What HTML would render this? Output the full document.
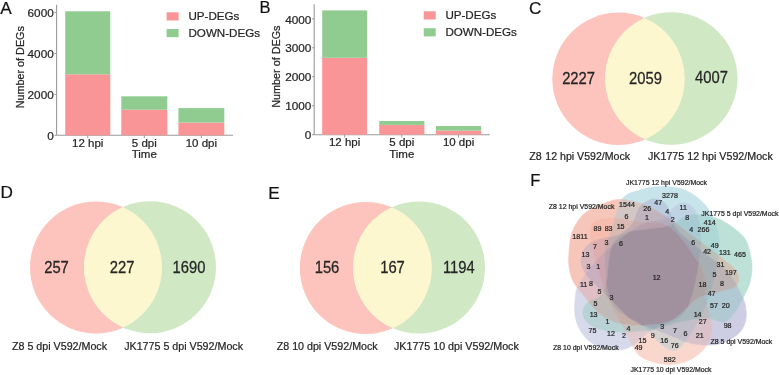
<!DOCTYPE html>
<html><head><meta charset="utf-8"><style>
html,body{margin:0;padding:0;background:#fff;width:779px;height:375px;overflow:hidden}
svg{display:block;will-change:transform}
text{font-family:"Liberation Sans", sans-serif;stroke:#222;stroke-width:0.22px}
</style></head><body>
<svg width="779" height="375" viewBox="0 0 779 375" font-family='"Liberation Sans", sans-serif'><text x="0.2" y="13.9" font-size="17.2" text-anchor="start" fill="#111" >A</text>
<line x1="56.6" y1="4.8" x2="56.6" y2="135.3" stroke="#9a9a9a" stroke-width="1.1"/>
<line x1="56.6" y1="135.3" x2="233" y2="135.3" stroke="#9a9a9a" stroke-width="1.1"/>
<line x1="54.4" y1="135.3" x2="56.6" y2="135.3" stroke="#9a9a9a" stroke-width="1"/>
<text x="53.800000000000004" y="140.0" font-size="11.8" text-anchor="end" fill="#262626" >0</text>
<line x1="54.4" y1="94.4" x2="56.6" y2="94.4" stroke="#9a9a9a" stroke-width="1"/>
<text x="53.800000000000004" y="99.10000000000001" font-size="11.8" text-anchor="end" fill="#262626" >2000</text>
<line x1="54.4" y1="53.500000000000014" x2="56.6" y2="53.500000000000014" stroke="#9a9a9a" stroke-width="1"/>
<text x="53.800000000000004" y="58.20000000000002" font-size="11.8" text-anchor="end" fill="#262626" >4000</text>
<line x1="54.4" y1="12.600000000000023" x2="56.6" y2="12.600000000000023" stroke="#9a9a9a" stroke-width="1"/>
<text x="53.800000000000004" y="17.300000000000022" font-size="11.8" text-anchor="end" fill="#262626" >6000</text>
<rect x="65.2" y="74.3" width="45.099999999999994" height="61.000000000000014" fill="#FA9597"/>
<rect x="65.2" y="11.3" width="45.099999999999994" height="63.0" fill="#90CC90"/>
<line x1="87.75" y1="135.3" x2="87.75" y2="138.10000000000002" stroke="#9a9a9a" stroke-width="1"/>
<text x="87.75" y="146.60000000000002" font-size="11.5" text-anchor="middle" fill="#262626" >12 hpi</text>
<rect x="121.3" y="109.7" width="46.000000000000014" height="25.60000000000001" fill="#FA9597"/>
<rect x="121.3" y="96.3" width="46.000000000000014" height="13.400000000000006" fill="#90CC90"/>
<line x1="144.3" y1="135.3" x2="144.3" y2="138.10000000000002" stroke="#9a9a9a" stroke-width="1"/>
<text x="144.3" y="146.60000000000002" font-size="11.5" text-anchor="middle" fill="#262626" >5 dpi</text>
<rect x="178.4" y="122.6" width="45.900000000000006" height="12.700000000000017" fill="#FA9597"/>
<rect x="178.4" y="108.1" width="45.900000000000006" height="14.5" fill="#90CC90"/>
<line x1="201.35000000000002" y1="135.3" x2="201.35000000000002" y2="138.10000000000002" stroke="#9a9a9a" stroke-width="1"/>
<text x="201.35000000000002" y="146.60000000000002" font-size="11.5" text-anchor="middle" fill="#262626" >10 dpi</text>
<text x="144.3" y="158.3" font-size="11.5" text-anchor="middle" fill="#262626" >Time</text>
<rect x="166.6" y="12.3" width="12" height="8.2" fill="#FA9597"/>
<rect x="166.6" y="29.0" width="12" height="8.2" fill="#90CC90"/>
<text x="188.5" y="20.4" font-size="11.6" text-anchor="start" fill="#262626" >UP-DEGs</text>
<text x="188.5" y="37.1" font-size="11.6" text-anchor="start" fill="#262626" >DOWN-DEGs</text>
<text transform="translate(23.9,67.2) rotate(-90)" font-size="10.8" text-anchor="middle" fill="#262626">Number of DEGs</text>
<text x="259.6" y="13.3" font-size="16.5" text-anchor="start" fill="#111" >B</text>
<line x1="314.2" y1="4.3" x2="314.2" y2="134.7" stroke="#9a9a9a" stroke-width="1.1"/>
<line x1="314.2" y1="134.7" x2="490" y2="134.7" stroke="#9a9a9a" stroke-width="1.1"/>
<line x1="312.0" y1="134.7" x2="314.2" y2="134.7" stroke="#9a9a9a" stroke-width="1"/>
<text x="311.4" y="139.39999999999998" font-size="11.8" text-anchor="end" fill="#262626" >0</text>
<line x1="312.0" y1="105.72999999999999" x2="314.2" y2="105.72999999999999" stroke="#9a9a9a" stroke-width="1"/>
<text x="311.4" y="110.42999999999999" font-size="11.8" text-anchor="end" fill="#262626" >1000</text>
<line x1="312.0" y1="76.75999999999999" x2="314.2" y2="76.75999999999999" stroke="#9a9a9a" stroke-width="1"/>
<text x="311.4" y="81.46" font-size="11.8" text-anchor="end" fill="#262626" >2000</text>
<line x1="312.0" y1="47.78999999999999" x2="314.2" y2="47.78999999999999" stroke="#9a9a9a" stroke-width="1"/>
<text x="311.4" y="52.489999999999995" font-size="11.8" text-anchor="end" fill="#262626" >3000</text>
<line x1="312.0" y1="18.819999999999993" x2="314.2" y2="18.819999999999993" stroke="#9a9a9a" stroke-width="1"/>
<text x="311.4" y="23.519999999999992" font-size="11.8" text-anchor="end" fill="#262626" >4000</text>
<rect x="322.2" y="57.8" width="44.900000000000034" height="76.89999999999999" fill="#FA9597"/>
<rect x="322.2" y="10.4" width="44.900000000000034" height="47.4" fill="#90CC90"/>
<line x1="344.65" y1="134.7" x2="344.65" y2="137.5" stroke="#9a9a9a" stroke-width="1"/>
<text x="344.65" y="146.0" font-size="11.5" text-anchor="middle" fill="#262626" >12 hpi</text>
<rect x="379.2" y="124.9" width="45.19999999999999" height="9.799999999999983" fill="#FA9597"/>
<rect x="379.2" y="121" width="45.19999999999999" height="3.9000000000000057" fill="#90CC90"/>
<line x1="401.79999999999995" y1="134.7" x2="401.79999999999995" y2="137.5" stroke="#9a9a9a" stroke-width="1"/>
<text x="401.79999999999995" y="146.0" font-size="11.5" text-anchor="middle" fill="#262626" >5 dpi</text>
<rect x="436" y="130.6" width="45.10000000000002" height="4.099999999999994" fill="#FA9597"/>
<rect x="436" y="126" width="45.10000000000002" height="4.599999999999994" fill="#90CC90"/>
<line x1="458.55" y1="134.7" x2="458.55" y2="137.5" stroke="#9a9a9a" stroke-width="1"/>
<text x="458.55" y="146.0" font-size="11.5" text-anchor="middle" fill="#262626" >10 dpi</text>
<text x="401.79999999999995" y="157.7" font-size="11.5" text-anchor="middle" fill="#262626" >Time</text>
<rect x="423.7" y="11.3" width="12" height="8.2" fill="#FA9597"/>
<rect x="423.7" y="28.2" width="12" height="8.2" fill="#90CC90"/>
<text x="445.4" y="19.4" font-size="11.6" text-anchor="start" fill="#262626" >UP-DEGs</text>
<text x="445.4" y="36.3" font-size="11.6" text-anchor="start" fill="#262626" >DOWN-DEGs</text>
<text transform="translate(280.2,66.6) rotate(-90)" font-size="10.8" text-anchor="middle" fill="#262626">Number of DEGs</text>
<text x="529.0" y="14.2" font-size="17.2" text-anchor="start" fill="#111" >C</text>
<circle cx="618.5" cy="78.8" r="66.2" fill="#FCC4BC"/>
<circle cx="671.3" cy="78.5" r="66.2" fill="#D0E8C4"/>
<clipPath id="vc1"><circle cx="618.5" cy="78.8" r="66.2"/></clipPath>
<circle cx="671.3" cy="78.5" r="66.2" fill="#FDF7D0" clip-path="url(#vc1)"/>
<text transform="translate(578.6 83.5) scale(1 1.14)" font-size="14.8" text-anchor="middle" fill="#262626">2227</text>
<text transform="translate(645.4 83.5) scale(1 1.14)" font-size="14.8" text-anchor="middle" fill="#262626">2059</text>
<text transform="translate(711.5 83.2) scale(1 1.14)" font-size="14.8" text-anchor="middle" fill="#262626">4007</text>
<text x="529.2" y="160.2" font-size="10.7" text-anchor="start" fill="#262626" >Z8</text>
<text x="648" y="160.2" font-size="10.7" text-anchor="start" fill="#262626" >JK1775 12 hpi V592/Mock</text>
<text x="545.3" y="160.2" font-size="10.6" text-anchor="start" fill="#262626" >12 hpi V592/Mock</text>
<text x="0.5" y="197.8" font-size="17.2" text-anchor="start" fill="#111" >D</text>
<circle cx="96" cy="267.4" r="66" fill="#FCC4BC"/>
<circle cx="150" cy="267.2" r="66" fill="#D0E8C4"/>
<clipPath id="vc2"><circle cx="96" cy="267.4" r="66"/></clipPath>
<circle cx="150" cy="267.2" r="66" fill="#FDF7D0" clip-path="url(#vc2)"/>
<text transform="translate(56.5 273.1) scale(1 1.14)" font-size="14.8" text-anchor="middle" fill="#262626">257</text>
<text transform="translate(122.2 273.1) scale(1 1.14)" font-size="14.8" text-anchor="middle" fill="#262626">227</text>
<text transform="translate(188.9 273.1) scale(1 1.14)" font-size="14.8" text-anchor="middle" fill="#262626">1690</text>
<text x="12" y="350.3" font-size="10.7" text-anchor="start" fill="#262626" >Z8 5 dpi V592/Mock</text>
<text x="124.2" y="350.3" font-size="10.7" text-anchor="start" fill="#262626" >JK1775 5 dpi V592/Mock</text>
<text x="268.2" y="198.8" font-size="17.2" text-anchor="start" fill="#111" >E</text>
<circle cx="365.8" cy="268" r="66" fill="#FCC4BC"/>
<circle cx="419" cy="267.5" r="66" fill="#D0E8C4"/>
<clipPath id="vc3"><circle cx="365.8" cy="268" r="66"/></clipPath>
<circle cx="419" cy="267.5" r="66" fill="#FDF7D0" clip-path="url(#vc3)"/>
<text transform="translate(327 273.1) scale(1 1.14)" font-size="14.8" text-anchor="middle" fill="#262626">156</text>
<text transform="translate(392.5 273.1) scale(1 1.14)" font-size="14.8" text-anchor="middle" fill="#262626">167</text>
<text transform="translate(458.8 273.1) scale(1 1.14)" font-size="14.8" text-anchor="middle" fill="#262626">1194</text>
<text x="276.7" y="350.3" font-size="10.7" text-anchor="start" fill="#262626" >Z8 10 dpi V592/Mock</text>
<text x="394" y="350.3" font-size="10.7" text-anchor="start" fill="#262626" >JK1775 10 dpi V592/Mock</text>
<text x="530.2" y="186.2" font-size="16.5" text-anchor="start" fill="#111" >F</text>
<path d="M714.2,220.2 714.6,221.2 715.0,222.1 715.3,223.1 715.7,224.1 716.0,225.0 716.3,225.9 716.6,226.8 716.9,227.6 717.2,228.4 717.4,229.2 717.7,230.0 717.9,230.8 718.1,231.6 718.3,232.4 718.5,233.3 718.6,234.2 718.8,235.2 718.9,236.3 718.9,237.4 719.0,238.7 719.0,240.0 719.0,241.5 719.0,243.0 718.9,244.6 718.8,246.3 718.7,248.1 718.6,249.9 718.5,251.8 718.3,253.8 718.2,255.0 719.5,256.0 720.8,257.0 722.0,258.0 723.2,259.0 724.4,259.9 725.6,260.9 726.7,261.8 727.9,262.7 728.9,263.6 730.0,264.5 731.0,265.3 732.0,266.2 732.9,267.0 733.7,267.8 734.5,268.7 735.2,269.5 735.9,270.3 736.5,271.2 737.0,272.0 737.4,272.9 737.8,273.7 738.1,274.6 738.4,275.5 738.6,276.4 738.8,277.3 738.8,278.1 738.9,279.0 738.8,279.9 738.8,280.7 738.6,281.5 738.4,282.3 738.1,283.0 737.8,283.7 737.4,284.4 737.0,285.0 736.7,285.4 736.9,285.8 737.7,287.4 738.6,289.0 739.3,290.5 740.1,292.0 740.8,293.4 741.4,294.8 742.0,296.0 742.5,297.2 743.0,298.1 743.0,298.0 743.5,297.1 743.9,296.3 744.4,295.4 744.8,294.5 745.3,293.7 745.7,292.8 746.2,292.0 746.6,291.1 747.0,290.3 747.4,289.4 747.8,288.5 748.2,287.6 748.6,286.7 748.9,285.8 749.2,284.9 749.5,284.0 749.8,283.0 750.0,282.1 750.3,281.1 750.5,280.1 750.7,279.0 750.9,278.0 751.1,277.0 751.2,275.9 751.4,274.9 751.5,273.9 751.6,272.8 751.8,271.8 751.8,270.8 751.9,269.9 752.0,268.9 752.0,268.0 752.0,267.1 752.0,266.2 752.0,265.4 752.0,264.6 751.9,263.8 751.9,263.0 751.8,262.2 751.7,261.4 751.6,260.6 751.5,259.9 751.3,259.1 751.2,258.3 751.0,257.5 750.9,256.7 750.7,255.8 750.5,255.0 750.3,254.1 750.1,253.2 749.9,252.3 749.7,251.4 749.4,250.4 749.2,249.4 748.9,248.5 748.7,247.5 748.4,246.5 748.1,245.6 747.8,244.7 747.4,243.8 747.1,242.9 746.8,242.1 746.4,241.3 746.0,240.5 745.6,239.8 745.2,239.1 744.8,238.5 744.3,237.8 743.9,237.2 743.4,236.7 742.9,236.1 742.4,235.6 741.9,235.1 741.4,234.6 740.8,234.1 740.3,233.6 739.7,233.0 739.2,232.5 738.6,232.0 738.0,231.5 737.4,231.0 736.8,230.4 736.1,229.9 735.5,229.4 734.8,228.8 734.1,228.3 733.4,227.8 732.8,227.3 732.0,226.8 731.3,226.3 730.6,225.8 729.9,225.3 729.2,224.8 728.4,224.4 727.7,223.9 727.0,223.5 726.3,223.1 725.6,222.7 725.0,222.3 724.4,221.9 723.8,221.5 723.1,221.1 722.5,220.8 721.9,220.4 721.2,220.1 720.5,219.8 719.7,219.5 718.9,219.1 718.1,218.8 717.1,218.6 716.1,218.3 715.0,218.0 713.8,217.7 713.1,217.6 713.4,218.3 713.8,219.2Z" fill="rgb(190, 225, 215)" stroke="rgb(190, 225, 215)" stroke-width="0.6" stroke-linejoin="round"/>
<path d="M670.2,212.2 670.6,211.5 670.9,210.9 671.2,210.2 671.6,209.6 672.0,209.1 672.4,208.5 673.0,208.0 673.6,207.5 674.2,207.0 674.9,206.5 675.5,206.0 676.2,205.5 676.9,205.0 677.6,204.6 678.3,204.2 679.0,203.8 679.7,203.4 680.5,203.1 681.2,202.9 681.9,202.7 682.6,202.5 683.3,202.5 684.0,202.5 684.7,202.6 685.4,202.7 686.1,203.0 686.9,203.2 687.6,203.5 688.4,203.9 689.1,204.3 689.9,204.8 690.6,205.3 691.3,205.8 692.0,206.4 692.7,207.1 693.3,207.8 693.9,208.5 694.5,209.2 695.0,210.0 695.5,210.8 695.9,211.7 696.4,212.5 696.8,213.5 697.2,214.4 697.3,214.8 698.1,214.8 699.8,215.0 701.5,215.2 703.2,215.5 704.9,215.8 706.5,216.1 708.1,216.4 709.6,216.7 711.1,217.1 712.5,217.4 713.1,217.6 713.0,217.3 712.6,216.4 712.1,215.4 711.6,214.5 711.1,213.5 710.6,212.6 710.1,211.7 709.6,210.9 709.0,210.0 708.4,209.2 707.9,208.3 707.3,207.5 706.6,206.7 706.0,205.9 705.4,205.1 704.7,204.4 704.1,203.6 703.4,202.9 702.7,202.1 701.9,201.4 701.2,200.7 700.4,200.0 699.6,199.3 698.8,198.7 698.0,198.0 697.1,197.3 696.3,196.7 695.4,196.0 694.5,195.4 693.6,194.7 692.6,194.1 691.7,193.5 690.7,192.9 689.7,192.3 688.7,191.8 687.6,191.2 686.5,190.7 685.4,190.2 684.3,189.8 683.2,189.4 682.0,189.0 680.8,188.7 679.5,188.3 678.2,188.0 676.9,187.8 675.5,187.5 674.1,187.3 672.7,187.1 671.2,187.0 669.8,186.8 668.4,186.7 666.9,186.6 665.5,186.6 664.1,186.5 662.7,186.5 661.3,186.5 660.0,186.5 658.7,186.5 657.4,186.6 656.1,186.7 654.8,186.8 653.5,187.0 652.3,187.1 651.0,187.3 649.8,187.5 648.5,187.8 647.3,188.0 646.0,188.3 644.8,188.6 643.6,188.9 642.4,189.3 641.2,189.6 640.0,190.0 638.8,190.4 637.6,190.7 636.4,191.1 635.1,191.5 633.9,191.8 632.7,192.2 631.5,192.6 630.3,193.1 629.1,193.6 628.0,194.1 626.9,194.7 625.8,195.4 624.8,196.2 623.8,197.0 622.9,198.0 622.0,199.0 621.6,199.5 622.9,199.6 624.4,199.7 625.9,199.9 627.5,200.2 629.1,200.4 630.7,200.7 632.3,201.1 633.9,201.5 635.6,201.9 637.2,202.4 638.8,202.8 640.4,203.3 641.9,203.9 642.5,204.1 642.8,203.8 643.4,203.3 644.0,202.9 644.5,202.5 645.1,202.1 645.7,201.8 646.3,201.4 646.9,201.1 647.4,200.8 648.0,200.5 648.6,200.2 649.1,200.0 649.7,199.8 650.3,199.6 650.8,199.4 651.4,199.3 652.0,199.1 652.6,199.0 653.1,199.0 653.7,198.9 654.3,198.9 654.8,198.8 655.4,198.9 655.9,198.9 656.5,198.9 657.0,199.0 657.5,199.1 658.1,199.2 658.6,199.3 659.1,199.5 659.7,199.7 660.2,199.9 660.7,200.1 661.2,200.3 661.8,200.6 662.3,200.9 662.8,201.2 663.2,201.5 663.7,201.9 664.2,202.2 664.6,202.6 665.0,203.0 665.4,203.4 665.8,203.8 666.1,204.3 666.4,204.7 666.8,205.2 667.1,205.7 667.3,206.2 667.6,206.8 667.9,207.3 668.2,207.9 668.5,208.5 668.8,209.1 669.0,209.8 669.3,210.5 669.7,211.2 670.0,212.0 670.2,212.4Z" fill="rgb(200, 228, 235)" stroke="rgb(200, 228, 235)" stroke-width="0.6" stroke-linejoin="round"/>
<path d="M706.5,216.1 704.9,215.8 703.2,215.5 701.5,215.2 699.8,215.0 698.1,214.8 697.3,214.8 697.6,215.4 697.9,216.5 698.2,217.6 698.5,218.7 698.8,219.9 699.0,221.1 699.3,222.4 699.5,223.7 699.7,225.1 699.8,226.5 700.0,228.0 700.1,229.5 700.3,231.1 700.4,232.6 700.6,234.2 700.7,235.9 700.8,237.5 700.9,239.3 701.0,241.1 701.0,242.2 701.3,242.5 703.0,243.7 704.6,244.9 706.2,246.1 707.8,247.2 709.4,248.4 710.9,249.5 712.4,250.6 713.9,251.7 715.4,252.8 716.8,253.9 718.1,254.9 718.2,255.0 718.3,253.8 718.5,251.8 718.6,249.9 718.7,248.1 718.8,246.3 718.9,244.6 719.0,243.0 719.0,241.5 719.0,240.0 719.0,238.7 718.9,237.4 718.9,236.3 718.8,235.2 718.6,234.2 718.5,233.3 718.3,232.4 718.1,231.6 717.9,230.8 717.7,230.0 717.4,229.2 717.2,228.4 716.9,227.6 716.6,226.8 716.3,225.9 716.0,225.0 715.7,224.1 715.3,223.1 715.0,222.1 714.6,221.2 714.2,220.2 713.8,219.2 713.4,218.3 713.1,217.6 712.5,217.4 711.1,217.1 709.6,216.7 708.1,216.4Z" fill="rgb(174, 216, 214)" stroke="rgb(174, 216, 214)" stroke-width="0.6" stroke-linejoin="round"/>
<path d="M634.5,349.3 634.9,350.0 635.4,350.7 635.8,351.4 636.3,352.0 636.7,352.6 637.2,353.2 637.7,353.8 638.2,354.4 638.8,354.9 639.4,355.5 640.0,356.0 640.7,356.5 641.4,357.0 642.1,357.5 642.8,357.9 643.6,358.4 644.4,358.8 645.2,359.2 646.0,359.5 646.8,359.9 647.7,360.2 648.5,360.6 649.4,360.9 650.3,361.2 651.2,361.5 652.1,361.7 653.0,362.0 653.9,362.3 654.8,362.5 655.8,362.8 656.8,363.0 657.7,363.2 658.7,363.4 659.7,363.6 660.8,363.8 661.8,364.0 662.8,364.1 663.8,364.2 664.9,364.3 665.9,364.4 666.9,364.5 668.0,364.5 669.0,364.5 670.0,364.5 671.1,364.4 672.2,364.4 673.2,364.3 674.3,364.2 675.4,364.0 676.5,363.9 677.6,363.7 678.7,363.5 679.8,363.3 680.9,363.0 681.9,362.8 683.0,362.5 684.0,362.2 685.0,361.8 686.0,361.5 687.0,361.1 687.9,360.7 688.9,360.3 689.8,359.8 690.8,359.4 691.7,358.9 692.6,358.4 693.5,357.8 694.4,357.3 695.2,356.7 696.1,356.1 696.9,355.5 697.7,354.9 698.5,354.3 699.3,353.6 700.0,353.0 700.7,352.4 701.4,351.7 702.1,351.0 702.7,350.3 703.4,349.6 704.0,348.9 704.6,348.2 705.2,347.4 705.7,346.6 706.3,345.9 706.8,345.1 706.8,345.1 706.4,345.1 705.2,345.0 703.9,345.0 702.7,345.0 701.4,344.9 700.0,344.8 698.7,344.6 697.3,344.5 695.9,344.2 694.5,344.0 693.0,343.7 691.5,343.4 690.0,343.0 688.4,342.6 686.8,342.1 685.4,341.6 684.6,342.6 683.7,343.7 682.9,344.7 682.0,345.6 681.2,346.5 680.3,347.3 679.5,348.0 678.6,348.6 677.7,349.2 676.9,349.6 676.0,350.0 675.1,350.3 674.3,350.4 673.5,350.5 672.6,350.5 671.8,350.4 671.0,350.2 670.2,350.0 669.4,349.7 668.5,349.3 667.7,348.9 666.8,348.3 665.9,347.8 665.0,347.2 664.0,346.5 663.0,345.8 662.0,345.0 660.9,344.2 659.9,343.2 658.8,342.2 657.6,341.1 656.5,339.9 655.4,338.6 654.2,337.3 653.0,336.0 651.7,334.6 650.5,333.2 649.3,331.9 648.8,332.2 647.4,333.3 646.0,334.5 644.6,335.6 643.4,336.7 642.1,337.8 640.9,338.9 639.8,340.0 638.6,341.0 637.5,342.0 636.4,342.9 635.3,343.8 634.2,344.6 633.1,345.3 632.4,345.7 632.5,345.9 633.1,346.8 633.6,347.7 634.0,348.5Z" fill="rgb(250, 215, 205)" stroke="rgb(250, 215, 205)" stroke-width="0.6" stroke-linejoin="round"/>
<path d="M653.0,336.0 654.2,337.3 655.4,338.6 656.5,339.9 657.6,341.1 658.8,342.2 659.9,343.2 660.9,344.2 662.0,345.0 663.0,345.8 664.0,346.5 665.0,347.2 665.9,347.8 666.8,348.3 667.7,348.9 668.5,349.3 669.4,349.7 670.2,350.0 671.0,350.2 671.8,350.4 672.6,350.5 673.5,350.5 674.3,350.4 675.1,350.3 676.0,350.0 676.9,349.6 677.7,349.2 678.6,348.6 679.5,348.0 680.3,347.3 681.2,346.5 682.0,345.6 682.9,344.7 683.7,343.7 684.6,342.6 685.4,341.6 685.2,341.5 683.5,340.9 681.8,340.3 680.1,339.6 678.3,338.9 676.5,338.1 674.7,337.4 672.9,336.6 671.1,335.8 669.2,335.0 667.4,334.2 665.6,333.5 663.8,332.7 662.0,332.0 660.2,331.3 658.4,330.7 656.6,330.0 654.7,329.4 654.2,329.2 654.0,329.3 652.9,329.5 652.0,330.0 650.4,331.1 649.3,331.9 650.5,333.2 651.7,334.6Z" fill="rgb(214, 210, 208)" stroke="rgb(214, 210, 208)" stroke-width="0.6" stroke-linejoin="round"/>
<path d="M576.3,290.6 576.1,291.5 575.9,292.3 575.8,293.2 575.6,294.0 575.5,294.9 575.4,295.7 575.3,296.5 575.2,297.4 575.2,298.2 575.1,299.1 575.0,300.0 574.9,300.9 574.8,301.8 574.8,302.8 574.7,303.7 574.6,304.7 574.6,305.6 574.6,306.6 574.6,307.6 574.6,308.5 574.6,309.5 574.6,310.4 574.6,311.4 574.7,312.3 574.8,313.2 574.9,314.1 575.0,315.0 575.1,315.9 575.3,316.7 575.4,317.6 575.6,318.4 575.8,319.2 576.0,320.1 576.2,320.9 576.4,321.7 576.7,322.5 577.0,323.3 577.2,324.1 577.6,324.9 577.9,325.7 578.2,326.4 578.6,327.2 579.0,328.0 579.4,328.8 579.9,329.6 580.3,330.4 580.8,331.2 581.3,332.0 581.9,332.8 582.4,333.6 583.0,334.4 583.6,335.1 584.2,335.9 584.8,336.7 585.4,337.4 586.1,338.1 586.7,338.7 587.3,339.4 588.0,340.0 588.7,340.6 589.3,341.1 590.0,341.7 590.7,342.2 591.4,342.7 592.1,343.2 592.8,343.6 593.6,344.1 594.3,344.5 595.1,344.9 595.9,345.3 596.6,345.6 597.5,346.0 598.3,346.4 599.1,346.7 600.0,347.0 600.9,347.3 601.8,347.6 602.8,347.9 603.7,348.2 604.7,348.5 605.7,348.7 606.7,349.0 607.8,349.2 608.8,349.4 609.8,349.6 610.9,349.7 611.9,349.8 612.9,349.9 614.0,350.0 615.0,350.0 616.0,350.0 617.0,350.0 618.0,349.9 618.9,349.9 619.9,349.8 620.9,349.7 621.8,349.5 622.8,349.4 623.8,349.2 624.7,349.0 625.7,348.7 626.7,348.4 627.7,348.0 628.8,347.6 629.8,347.1 630.9,346.6 632.0,346.0 632.4,345.7 632.0,345.0 631.4,344.0 630.9,343.0 630.3,341.9 629.8,340.9 629.2,339.7 628.6,338.6 628.0,337.4 627.4,336.2 626.8,334.9 626.2,333.6 625.6,332.3 625.5,332.2 625.2,332.2 623.0,332.2 620.9,332.2 618.8,332.2 616.9,332.1 615.0,332.0 613.2,331.9 611.5,331.7 609.7,331.4 608.1,331.2 606.5,330.9 604.9,330.6 603.4,330.2 601.9,329.8 600.4,329.4 599.1,329.0 597.8,328.5 596.5,328.0 595.3,327.5 594.1,327.0 593.0,326.5 592.0,326.0 591.0,325.5 590.1,324.9 589.3,324.3 588.5,323.6 587.7,323.0 587.0,322.3 586.4,321.6 585.8,320.9 585.3,320.2 584.8,319.4 584.4,318.7 584.0,317.9 583.7,317.2 583.4,316.5 583.2,315.7 583.0,315.0 582.9,314.3 582.8,313.6 582.7,312.8 582.8,312.1 582.8,311.4 582.9,310.6 583.1,309.9 583.3,309.1 583.6,308.4 583.9,307.6 584.3,306.9 584.7,306.1 585.2,305.3 585.8,304.5 586.3,303.8 587.0,303.0 587.7,302.3 588.5,301.7 588.1,301.1 587.2,300.1 586.4,299.0 585.6,298.0 584.8,297.0 584.0,296.0 583.2,295.0 582.4,294.1 581.7,293.1 580.9,292.2 580.1,291.2 579.3,290.3 578.6,289.4 577.9,288.4 577.3,287.7 577.2,287.9 576.8,288.9 576.5,289.8Z" fill="rgb(215, 218, 235)" stroke="rgb(215, 218, 235)" stroke-width="0.6" stroke-linejoin="round"/>
<path d="M587.0,303.0 586.3,303.8 585.8,304.5 585.2,305.3 584.7,306.1 584.3,306.9 583.9,307.6 583.6,308.4 583.3,309.1 583.1,309.9 582.9,310.6 582.8,311.4 582.8,312.1 582.7,312.8 582.8,313.6 582.9,314.3 583.0,315.0 583.2,315.7 583.4,316.5 583.7,317.2 584.0,317.9 584.4,318.7 584.8,319.4 585.3,320.2 585.8,320.9 586.4,321.6 587.0,322.3 587.7,323.0 588.5,323.6 589.3,324.3 590.1,324.9 591.0,325.5 592.0,326.0 593.0,326.5 594.1,327.0 595.3,327.5 596.5,328.0 597.8,328.5 599.1,329.0 600.4,329.4 601.9,329.8 603.4,330.2 604.9,330.6 606.5,330.9 608.1,331.2 609.7,331.4 611.5,331.7 613.2,331.9 615.0,332.0 616.9,332.1 618.8,332.2 620.9,332.2 623.0,332.2 625.2,332.2 625.5,332.2 624.9,330.9 624.2,329.5 623.5,328.0 622.8,326.5 622.0,325.0 621.3,323.6 620.5,323.4 619.1,323.1 617.7,322.8 616.3,322.4 615.0,322.0 613.7,321.6 612.5,321.1 611.3,320.6 610.1,320.1 609.0,319.6 607.9,319.0 606.8,318.4 605.8,317.8 604.8,317.2 603.8,316.5 602.8,315.8 601.9,315.1 600.9,314.3 599.9,313.6 599.0,312.8 598.0,312.0 597.0,311.2 596.1,310.3 595.1,309.4 594.2,308.4 593.3,307.4 592.4,306.4 591.5,305.4 590.6,304.3 589.8,303.3 588.9,302.2 588.5,301.7 587.7,302.3Z" fill="rgb(184, 210, 214)" stroke="rgb(184, 210, 214)" stroke-width="0.6" stroke-linejoin="round"/>
<path d="M695.9,211.7 695.5,210.8 695.0,210.0 694.5,209.2 693.9,208.5 693.3,207.8 692.7,207.1 692.0,206.4 691.3,205.8 690.6,205.3 689.9,204.8 689.1,204.3 688.4,203.9 687.6,203.5 686.9,203.2 686.1,203.0 685.4,202.7 684.7,202.6 684.0,202.5 683.3,202.5 682.6,202.5 681.9,202.7 681.2,202.9 680.5,203.1 679.7,203.4 679.0,203.8 678.3,204.2 677.6,204.6 676.9,205.0 676.2,205.5 675.5,206.0 674.9,206.5 674.2,207.0 673.6,207.5 673.0,208.0 672.4,208.5 672.0,209.1 671.6,209.6 671.2,210.2 670.9,210.9 670.6,211.5 670.2,212.2 670.2,212.4 670.3,212.8 670.6,213.7 670.9,214.6 671.2,215.5 671.5,216.5 671.7,217.5 672.0,218.6 672.3,219.6 672.6,220.7 672.8,221.3 673.3,221.6 674.9,222.8 676.0,222.1 677.4,221.3 678.7,220.5 680.0,219.6 681.2,218.9 682.4,218.1 683.5,217.4 684.7,216.8 685.9,216.2 687.2,215.7 688.5,215.3 690.0,215.0 691.5,214.8 693.1,214.7 694.8,214.6 696.4,214.7 697.3,214.8 697.2,214.4 696.8,213.5 696.4,212.5Z" fill="rgb(191, 211, 228)" stroke="rgb(191, 211, 228)" stroke-width="0.6" stroke-linejoin="round"/>
<path d="M691.5,214.8 690.0,215.0 688.5,215.3 687.2,215.7 685.9,216.2 684.7,216.8 683.5,217.4 682.4,218.1 681.2,218.9 680.0,219.6 678.7,220.5 677.4,221.3 676.0,222.1 674.9,222.8 675.1,223.0 677.1,224.3 679.0,225.8 681.0,227.2 682.9,228.7 684.9,230.2 686.9,231.6 688.8,233.1 690.8,234.6 692.6,236.0 694.5,237.4 696.3,238.7 698.0,240.0 699.7,241.2 701.0,242.2 701.0,241.1 700.9,239.3 700.8,237.5 700.7,235.9 700.6,234.2 700.4,232.6 700.3,231.1 700.1,229.5 700.0,228.0 699.8,226.5 699.7,225.1 699.5,223.7 699.3,222.4 699.0,221.1 698.8,219.9 698.5,218.7 698.2,217.6 697.9,216.5 697.6,215.4 697.3,214.8 696.4,214.7 694.8,214.6 693.1,214.7Z" fill="rgb(166, 203, 211)" stroke="rgb(166, 203, 211)" stroke-width="0.6" stroke-linejoin="round"/>
<path d="M636.4,342.9 637.5,342.0 638.6,341.0 639.8,340.0 640.9,338.9 642.1,337.8 643.4,336.7 644.6,335.6 646.0,334.5 647.4,333.3 648.8,332.2 649.3,331.9 649.2,331.8 647.8,330.4 647.8,330.3 645.8,330.6 643.6,330.9 641.3,331.1 639.0,331.3 636.7,331.5 634.4,331.7 632.1,331.9 629.8,332.0 627.5,332.1 625.5,332.2 625.6,332.3 626.2,333.6 626.8,334.9 627.4,336.2 628.0,337.4 628.6,338.6 629.2,339.7 629.8,340.9 630.3,341.9 630.9,343.0 631.4,344.0 632.0,345.0 632.4,345.7 633.1,345.3 634.2,344.6 635.3,343.8Z" fill="rgb(224, 203, 208)" stroke="rgb(224, 203, 208)" stroke-width="0.6" stroke-linejoin="round"/>
<path d="M622.8,326.5 623.5,328.0 624.2,329.5 624.9,330.9 625.5,332.2 627.5,332.1 629.8,332.0 632.1,331.9 634.4,331.7 636.7,331.5 639.0,331.3 641.3,331.1 643.6,330.9 645.8,330.6 647.8,330.3 646.4,329.0 645.0,327.6 643.5,326.3 642.0,325.0 641.9,325.0 641.9,324.9 641.8,324.9 640.0,325.0 638.2,325.0 636.5,325.1 634.8,325.0 633.1,325.0 631.4,324.9 629.8,324.8 628.2,324.6 626.6,324.4 625.0,324.2 623.5,324.0 622.0,323.7 621.3,323.6 622.0,325.0Z" fill="rgb(194, 196, 194)" stroke="rgb(194, 196, 194)" stroke-width="0.6" stroke-linejoin="round"/>
<path d="M649.3,331.9 650.4,331.1 652.0,330.0 652.9,329.5 652.0,329.7 650.0,330.0 647.9,330.3 647.8,330.3 647.8,330.4 649.2,331.8Z" fill="rgb(200, 197, 205)" stroke="rgb(200, 197, 205)" stroke-width="0.6" stroke-linejoin="round"/>
<path d="M643.5,326.3 645.0,327.6 646.4,329.0 647.8,330.3 647.9,330.3 650.0,330.0 652.0,329.7 652.9,329.5 653.6,329.1 652.9,328.8 651.0,328.2 649.1,327.6 647.3,327.0 645.4,326.3 643.6,325.6 641.9,325.0 642.0,325.0Z" fill="rgb(174, 190, 192)" stroke="rgb(174, 190, 192)" stroke-width="0.6" stroke-linejoin="round"/>
<path d="M613.2,200.3 611.9,200.6 610.6,201.0 609.4,201.4 608.1,201.8 606.9,202.3 605.7,202.7 604.5,203.2 603.4,203.7 602.2,204.1 601.1,204.6 600.0,205.0 598.9,205.4 597.8,205.9 596.8,206.3 595.8,206.8 594.7,207.2 593.7,207.7 592.8,208.2 591.8,208.7 590.9,209.2 590.0,209.7 589.1,210.2 588.2,210.7 587.4,211.3 586.6,211.8 585.8,212.4 585.0,213.0 584.3,213.6 583.6,214.2 582.9,214.9 582.2,215.5 581.6,216.2 581.0,216.9 580.4,217.6 579.9,218.2 579.3,219.0 578.8,219.7 578.3,220.4 577.8,221.1 577.4,221.8 576.9,222.6 576.4,223.3 576.0,224.0 575.6,224.7 575.2,225.4 574.8,226.1 574.4,226.8 574.0,227.5 573.7,228.3 573.4,229.0 573.1,229.7 572.8,230.4 572.5,231.2 572.2,231.9 571.9,232.7 571.7,233.5 571.5,234.3 571.2,235.1 571.0,236.0 570.8,236.9 570.6,237.8 570.4,238.8 570.2,239.8 570.1,240.8 569.9,241.8 569.8,242.8 569.7,243.9 569.6,244.9 569.5,246.0 569.4,247.0 569.3,248.0 569.2,249.1 569.1,250.1 569.1,251.0 569.0,252.0 568.9,252.9 568.9,253.8 568.8,254.7 568.8,255.6 568.7,256.5 568.7,257.4 568.6,258.2 568.6,259.1 568.6,259.9 568.6,260.8 568.6,261.6 568.7,262.5 568.7,263.3 568.8,264.2 568.9,265.1 569.0,266.0 569.1,266.9 569.3,267.8 569.4,268.8 569.6,269.7 569.7,270.6 569.9,271.6 570.1,272.5 570.3,273.4 570.6,274.4 570.8,275.3 571.1,276.3 571.4,277.2 571.8,278.2 572.1,279.1 572.6,280.1 573.0,281.0 573.5,281.9 574.0,282.9 574.6,283.8 575.2,284.7 575.8,285.7 576.5,286.6 577.2,287.5 577.3,287.7 577.6,287.0 578.0,286.0 578.5,285.0 579.0,284.0 579.6,282.9 580.2,281.8 580.8,280.7 581.5,279.6 582.2,278.5 583.0,277.4 583.8,276.2 584.6,275.1 585.4,273.9 585.6,273.7 585.2,273.0 584.6,272.0 584.0,271.1 583.5,270.1 583.1,269.2 582.7,268.3 582.3,267.4 582.0,266.5 581.7,265.6 581.5,264.7 581.3,263.8 581.1,262.9 581.0,262.0 580.9,261.1 580.9,260.2 581.0,259.2 581.0,258.3 581.2,257.3 581.3,256.4 581.6,255.5 581.8,254.6 582.1,253.7 582.4,252.8 582.8,251.9 583.2,251.1 583.6,250.2 584.0,249.5 584.5,248.7 585.0,248.0 585.5,247.3 586.1,246.7 586.6,246.1 587.2,245.5 587.9,245.0 588.5,244.4 589.2,243.9 589.9,243.4 590.7,243.0 590.9,242.8 590.7,241.5 590.4,240.0 590.2,238.6 590.1,237.3 590.0,236.0 589.9,234.8 589.9,233.6 589.9,232.5 590.0,231.4 590.0,230.4 590.2,229.4 590.3,228.5 590.5,227.6 590.7,226.8 591.0,226.0 591.4,225.2 591.8,224.5 592.2,223.8 592.8,223.2 593.3,222.6 594.0,222.0 594.7,221.5 595.5,221.0 596.4,220.5 597.3,220.1 598.3,219.7 599.3,219.4 600.4,219.1 601.5,218.9 602.7,218.7 603.9,218.5 605.2,218.3 606.5,218.2 607.8,218.1 609.2,218.0 610.6,218.0 612.0,218.0 613.5,218.0 614.9,218.1 615.0,217.6 615.5,215.8 615.9,214.0 616.4,212.3 616.9,210.5 617.4,208.8 617.9,207.2 618.5,205.7 619.1,204.2 619.7,202.7 620.4,201.4 621.2,200.1 621.6,199.5 621.4,199.5 620.0,199.5 618.6,199.5 617.2,199.6 615.9,199.8 614.5,200.0Z" fill="rgb(247, 198, 186)" stroke="rgb(247, 198, 186)" stroke-width="0.6" stroke-linejoin="round"/>
<path d="M737.0,285.0 737.4,284.4 737.8,283.7 738.1,283.0 738.4,282.3 738.6,281.5 738.8,280.7 738.8,279.9 738.9,279.0 738.8,278.1 738.8,277.3 738.6,276.4 738.4,275.5 738.1,274.6 737.8,273.7 737.4,272.9 737.0,272.0 736.5,271.2 735.9,270.3 735.2,269.5 734.5,268.7 733.7,267.8 732.9,267.0 732.0,266.2 731.0,265.3 730.0,264.5 728.9,263.6 727.9,262.7 726.7,261.8 725.6,260.9 724.4,259.9 723.2,259.0 722.0,258.0 720.8,257.0 719.5,256.0 718.2,255.0 718.1,255.7 717.9,257.7 717.7,259.8 717.4,261.8 717.3,262.7 718.1,263.3 719.4,264.3 720.8,265.3 722.1,266.3 723.3,267.4 724.6,268.5 725.8,269.6 726.9,270.8 728.0,272.0 729.1,273.3 730.1,274.7 731.1,276.1 732.2,277.7 733.2,279.2 734.1,280.9 735.1,282.5 736.0,284.1 736.7,285.4Z" fill="rgb(206, 196, 181)" stroke="rgb(206, 196, 181)" stroke-width="0.6" stroke-linejoin="round"/>
<path d="M618.5,205.7 617.9,207.2 617.4,208.8 616.9,210.5 616.4,212.3 615.9,214.0 615.5,215.8 615.0,217.6 614.9,218.1 615.0,218.1 616.6,218.2 618.3,218.4 619.9,218.6 621.7,218.9 623.5,219.1 625.3,219.4 627.1,219.7 628.9,220.1 630.8,220.4 632.6,220.7 633.8,220.9 634.2,220.2 634.6,219.1 635.0,218.0 635.4,216.9 635.8,215.8 636.2,214.7 636.5,213.6 636.9,212.5 637.3,211.5 637.7,210.5 638.1,209.6 638.5,208.8 639.0,208.0 639.5,207.3 640.0,206.6 640.6,206.0 641.1,205.4 641.7,204.8 642.2,204.3 642.5,204.1 641.9,203.9 640.4,203.3 638.8,202.8 637.2,202.4 635.6,201.9 633.9,201.5 632.3,201.1 630.7,200.7 629.1,200.4 627.5,200.2 625.9,199.9 624.4,199.7 622.9,199.6 621.6,199.5 621.2,200.1 620.4,201.4 619.7,202.7 619.1,204.2Z" fill="rgb(212, 198, 195)" stroke="rgb(212, 198, 195)" stroke-width="0.6" stroke-linejoin="round"/>
<path d="M717.4,261.8 717.7,259.8 717.9,257.7 718.1,255.7 718.2,255.0 718.1,254.9 716.8,253.9 715.4,252.8 713.9,251.7 712.4,250.6 710.9,249.5 709.4,248.4 707.8,247.2 706.2,246.1 704.6,244.9 703.0,243.7 701.3,242.5 701.0,242.2 701.0,242.9 700.9,244.9 700.9,246.9 700.7,249.0 700.6,250.1 700.7,250.2 701.7,251.0 702.7,251.8 703.7,252.6 704.8,253.4 705.8,254.2 706.9,255.1 708.0,256.0 709.2,256.9 710.3,257.8 711.6,258.7 712.9,259.6 714.2,260.5 715.5,261.4 716.8,262.4 717.3,262.7Z" fill="rgb(184, 192, 184)" stroke="rgb(184, 192, 184)" stroke-width="0.6" stroke-linejoin="round"/>
<path d="M610.6,218.0 609.2,218.0 607.8,218.1 606.5,218.2 605.2,218.3 603.9,218.5 602.7,218.7 601.5,218.9 600.4,219.1 599.3,219.4 598.3,219.7 597.3,220.1 596.4,220.5 595.5,221.0 594.7,221.5 594.0,222.0 593.3,222.6 592.8,223.2 592.2,223.8 591.8,224.5 591.4,225.2 591.0,226.0 590.7,226.8 590.5,227.6 590.3,228.5 590.2,229.4 590.0,230.4 590.0,231.4 589.9,232.5 589.9,233.6 589.9,234.8 590.0,236.0 590.1,237.3 590.2,238.6 590.4,240.0 590.7,241.5 590.9,242.8 591.5,242.5 592.3,242.1 593.2,241.6 594.1,241.2 595.0,240.8 596.0,240.4 597.0,240.0 598.1,239.6 599.2,239.3 600.5,239.0 601.8,238.7 603.1,238.4 604.5,238.2 605.9,237.9 607.4,237.7 608.7,237.5 609.2,236.1 609.8,234.2 610.5,232.3 611.2,230.5 611.8,228.7 612.4,226.8 613.0,225.0 613.5,223.2 614.0,221.3 614.5,219.5 614.9,218.1 613.5,218.0 612.0,218.0Z" fill="rgb(246, 189, 175)" stroke="rgb(246, 189, 175)" stroke-width="0.6" stroke-linejoin="round"/>
<path d="M612.4,226.8 611.8,228.7 611.2,230.5 610.5,232.3 609.8,234.2 609.2,236.1 608.7,237.5 608.8,237.4 610.2,237.2 611.7,236.9 613.0,236.6 614.4,236.3 615.6,235.9 616.9,235.5 618.0,235.0 619.1,234.5 620.1,233.9 621.2,233.4 622.2,232.8 623.1,232.2 624.1,231.5 625.0,230.9 625.9,230.2 626.7,229.5 627.6,228.8 628.4,228.0 629.2,227.2 629.9,226.5 630.6,225.7 631.3,224.8 632.0,224.0 632.6,223.1 633.2,222.2 633.7,221.2 633.8,220.9 632.6,220.7 630.8,220.4 628.9,220.1 627.1,219.7 625.3,219.4 623.5,219.1 621.7,218.9 619.9,218.6 618.3,218.4 616.6,218.2 615.0,218.1 614.9,218.1 614.5,219.5 614.0,221.3 613.5,223.2 613.0,225.0Z" fill="rgb(217, 186, 178)" stroke="rgb(217, 186, 178)" stroke-width="0.6" stroke-linejoin="round"/>
<path d="M579.3,290.3 580.1,291.2 580.9,292.2 581.7,293.1 582.4,294.1 583.2,295.0 584.0,296.0 584.8,297.0 585.6,298.0 586.4,299.0 587.2,300.1 588.1,301.1 588.5,301.7 588.6,301.7 589.6,301.2 590.6,300.7 591.7,300.3 592.9,299.9 594.1,299.5 595.4,299.0 596.6,298.5 597.9,297.8 599.1,297.0 600.4,296.1 601.5,294.9 602.7,293.6 603.5,292.3 602.8,291.6 601.4,290.4 600.1,289.1 598.8,288.0 597.5,286.8 596.3,285.6 595.1,284.5 593.9,283.4 592.8,282.3 591.7,281.2 590.7,280.2 589.7,279.1 588.8,278.0 588.0,277.0 587.2,276.0 586.5,275.0 585.8,274.0 585.6,273.7 585.4,273.9 584.6,275.1 583.8,276.2 583.0,277.4 582.2,278.5 581.5,279.6 580.8,280.7 580.2,281.8 579.6,282.9 579.0,284.0 578.5,285.0 578.0,286.0 577.6,287.0 577.3,287.7 577.9,288.4 578.6,289.4Z" fill="rgb(223, 191, 195)" stroke="rgb(223, 191, 195)" stroke-width="0.6" stroke-linejoin="round"/>
<path d="M602.7,293.6 601.5,294.9 600.4,296.1 599.1,297.0 597.9,297.8 596.6,298.5 595.4,299.0 594.1,299.5 592.9,299.9 591.7,300.3 590.6,300.7 589.6,301.2 588.6,301.7 588.5,301.7 588.9,302.2 589.8,303.3 590.6,304.3 591.5,305.4 592.4,306.4 593.3,307.4 594.2,308.4 595.1,309.4 596.1,310.3 597.0,311.2 598.0,312.0 599.0,312.8 599.9,313.6 600.9,314.3 601.9,315.1 602.8,315.8 603.8,316.5 604.8,317.2 605.8,317.8 606.8,318.4 607.9,319.0 609.0,319.6 610.1,320.1 611.3,320.6 612.5,321.1 613.7,321.6 615.0,322.0 616.3,322.4 617.7,322.8 619.1,323.1 620.5,323.4 621.3,323.6 621.2,323.4 620.3,321.8 619.4,320.1 618.5,318.4 617.5,316.6 616.5,314.8 615.5,313.0 614.5,311.1 613.5,309.2 612.5,307.3 611.5,305.3 610.5,303.4 609.5,301.4 608.6,299.4 607.7,297.5 606.9,295.5 605.5,294.2 604.1,292.9 603.5,292.3Z" fill="rgb(192, 186, 184)" stroke="rgb(192, 186, 184)" stroke-width="0.6" stroke-linejoin="round"/>
<path d="M674.5,223.0 674.9,222.8 673.3,221.6 672.8,221.3 673.0,221.8 673.4,222.8 673.6,223.4Z" fill="rgb(198, 188, 195)" stroke="rgb(198, 188, 195)" stroke-width="0.6" stroke-linejoin="round"/>
<path d="M700.7,249.0 700.9,246.9 700.9,244.9 701.0,242.9 701.0,242.2 699.7,241.2 698.0,240.0 696.3,238.7 694.5,237.4 692.6,236.0 690.8,234.6 688.8,233.1 686.9,231.6 684.9,230.2 682.9,228.7 681.0,227.2 679.0,225.8 677.1,224.3 675.1,223.0 674.9,222.8 674.5,223.0 673.6,223.4 673.8,223.9 674.2,225.0 674.8,226.0 675.3,227.0 676.0,228.0 676.7,229.0 677.5,229.9 678.4,230.9 679.3,231.9 680.3,232.8 681.3,233.8 682.3,234.7 683.4,235.7 684.5,236.6 685.6,237.6 686.7,238.5 687.8,239.4 688.9,240.3 689.9,241.2 691.0,242.1 692.0,243.0 693.0,243.9 694.0,244.7 694.9,245.5 695.9,246.3 696.9,247.1 697.8,247.9 698.8,248.7 699.8,249.4 700.6,250.1Z" fill="rgb(173, 181, 183)" stroke="rgb(173, 181, 183)" stroke-width="0.6" stroke-linejoin="round"/>
<path d="M607.7,297.5 608.6,299.4 609.5,301.4 610.5,303.4 611.5,305.3 612.5,307.3 613.5,309.2 614.5,311.1 615.5,313.0 616.5,314.8 617.5,316.6 618.5,318.4 619.4,320.1 620.3,321.8 621.2,323.4 621.3,323.6 622.0,323.7 623.5,324.0 625.0,324.2 626.6,324.4 628.2,324.6 629.8,324.8 631.4,324.9 633.1,325.0 634.8,325.0 636.5,325.1 638.2,325.0 640.0,325.0 641.8,324.9 641.9,324.9 641.7,324.9 639.9,324.1 638.1,323.2 636.3,322.3 634.5,321.3 632.8,320.2 631.1,319.0 630.3,318.4 628.6,317.6 626.5,316.5 624.4,315.5 622.4,314.3 620.4,313.0 618.6,311.7 616.8,310.2 615.2,308.5 613.8,306.7 612.5,304.7 611.4,302.5 610.4,300.0 609.9,298.5 609.8,298.4 608.3,296.9 606.9,295.5Z" fill="rgb(197, 175, 168)" stroke="rgb(197, 175, 168)" stroke-width="0.6" stroke-linejoin="round"/>
<path d="M610.4,300.0 611.4,302.5 612.5,304.7 613.8,306.7 615.2,308.5 616.8,310.2 618.6,311.7 620.4,313.0 622.4,314.3 624.4,315.5 626.5,316.5 628.6,317.6 630.3,318.4 629.4,317.7 627.6,316.3 625.9,314.8 624.2,313.2 622.5,311.6 620.9,310.0 619.2,308.3 617.6,306.6 616.0,304.9 614.4,303.2 612.8,301.5 611.3,299.9 609.9,298.5Z" fill="rgb(178, 170, 166)" stroke="rgb(178, 170, 166)" stroke-width="0.6" stroke-linejoin="round"/>
<path d="M709.9,345.0 711.0,345.0 712.1,345.0 713.1,344.9 714.1,344.8 715.0,344.7 715.9,344.6 716.8,344.5 717.7,344.3 718.5,344.1 719.3,343.9 720.1,343.7 720.9,343.5 721.7,343.2 722.5,342.9 723.3,342.6 724.2,342.3 725.0,342.0 725.9,341.6 726.7,341.3 727.6,340.9 728.5,340.4 729.3,340.0 730.2,339.5 731.1,339.0 731.9,338.5 732.8,338.0 733.6,337.4 734.4,336.9 735.2,336.3 735.9,335.8 736.7,335.2 737.4,334.6 738.0,334.0 738.6,333.4 739.2,332.8 739.8,332.2 740.3,331.5 740.8,330.9 741.3,330.2 741.8,329.5 742.2,328.8 742.7,328.1 743.1,327.4 743.5,326.7 743.8,326.0 744.1,325.2 744.5,324.5 744.7,323.7 745.0,323.0 745.2,322.2 745.4,321.5 745.6,320.7 745.8,319.9 745.9,319.1 746.0,318.3 746.1,317.5 746.2,316.7 746.2,315.9 746.3,315.0 746.3,314.2 746.2,313.4 746.2,312.5 746.2,311.7 746.1,310.8 746.0,310.0 745.9,309.2 745.8,308.4 745.7,307.6 745.6,306.8 745.5,306.0 745.3,305.3 745.1,304.5 744.9,303.7 744.7,302.9 744.5,302.0 744.2,301.1 743.8,300.2 743.4,299.3 743.0,298.2 743.0,298.1 742.5,298.9 742.1,299.8 741.6,300.7 741.2,301.6 740.7,302.5 740.2,303.4 739.8,304.3 739.3,305.2 738.8,306.2 738.3,307.0 737.8,307.9 737.2,308.8 736.7,309.6 736.2,310.4 735.6,311.2 735.0,312.0 734.4,312.8 733.8,313.5 733.2,314.3 732.6,315.1 732.0,315.9 731.4,316.7 730.8,317.4 730.1,318.1 729.5,318.8 728.8,319.5 728.1,320.0 727.3,320.6 726.5,321.0 725.7,321.4 724.9,321.8 724.0,322.0 723.1,322.1 722.1,322.1 721.2,322.0 720.2,321.8 719.2,321.5 718.1,321.2 717.0,320.8 715.9,320.4 714.8,319.9 713.6,319.5 712.5,319.1 711.2,318.8 710.7,318.6 710.7,318.9 711.1,320.4 711.4,321.9 711.7,323.3 711.9,324.7 712.0,326.0 712.1,327.2 712.1,328.4 712.1,329.5 712.0,330.6 711.9,331.6 711.8,332.6 711.6,333.5 711.4,334.4 711.2,335.2 711.0,336.1 710.7,336.9 710.4,337.7 710.1,338.5 709.7,339.3 709.4,340.2 709.0,341.0 708.6,341.8 708.2,342.7 707.8,343.5 707.3,344.3 706.8,345.1 707.6,345.1 708.8,345.1Z" fill="rgb(205, 205, 228)" stroke="rgb(205, 205, 228)" stroke-width="0.6" stroke-linejoin="round"/>
<path d="M713.6,319.5 714.8,319.9 715.9,320.4 717.0,320.8 718.1,321.2 719.2,321.5 720.2,321.8 721.2,322.0 722.1,322.1 723.1,322.1 724.0,322.0 724.9,321.8 725.7,321.4 726.5,321.0 727.3,320.6 728.1,320.0 728.8,319.5 729.5,318.8 730.1,318.1 730.8,317.4 731.4,316.7 732.0,315.9 732.6,315.1 733.2,314.3 733.8,313.5 734.4,312.8 735.0,312.0 735.6,311.2 736.2,310.4 736.7,309.6 737.2,308.8 737.8,307.9 738.3,307.0 738.8,306.2 739.3,305.2 739.8,304.3 740.2,303.4 740.7,302.5 741.2,301.6 741.6,300.7 742.1,299.8 742.5,298.9 743.0,298.1 742.5,297.2 742.0,296.0 741.4,294.8 740.8,293.4 740.1,292.0 739.3,290.5 738.6,289.0 737.7,287.4 736.9,285.8 736.7,285.4 736.5,285.6 735.9,286.1 735.2,286.5 734.5,287.0 733.7,287.4 732.9,287.7 732.0,288.1 731.0,288.4 730.0,288.7 728.9,289.0 727.9,289.3 726.7,289.6 725.6,289.9 724.4,290.2 723.2,290.6 722.0,291.0 720.8,291.4 719.4,291.7 718.1,292.0 716.7,292.3 715.3,292.6 713.8,292.9 712.3,293.2 710.7,293.5 710.0,293.7 709.8,294.3 709.1,296.5 708.3,298.7 707.6,300.8 706.8,302.9 706.7,303.3 706.7,303.6 707.1,305.4 707.6,307.1 708.1,308.9 708.5,310.6 709.0,312.3 709.5,314.0 709.9,315.7 710.3,317.3 710.7,318.6 711.2,318.8 712.5,319.1Z" fill="rgb(177, 201, 210)" stroke="rgb(177, 201, 210)" stroke-width="0.6" stroke-linejoin="round"/>
<path d="M669.7,211.2 669.3,210.5 669.0,209.8 668.8,209.1 668.5,208.5 668.2,207.9 667.9,207.3 667.6,206.8 667.3,206.2 667.1,205.7 666.8,205.2 666.4,204.7 666.1,204.3 665.8,203.8 665.4,203.4 665.0,203.0 664.6,202.6 664.2,202.2 663.7,201.9 663.2,201.5 662.8,201.2 662.3,200.9 661.8,200.6 661.2,200.3 660.7,200.1 660.2,199.9 659.7,199.7 659.1,199.5 658.6,199.3 658.1,199.2 657.5,199.1 657.0,199.0 656.5,198.9 655.9,198.9 655.4,198.9 654.8,198.8 654.3,198.9 653.7,198.9 653.1,199.0 652.6,199.0 652.0,199.1 651.4,199.3 650.8,199.4 650.3,199.6 649.7,199.8 649.1,200.0 648.6,200.2 648.0,200.5 647.4,200.8 646.9,201.1 646.3,201.4 645.7,201.8 645.1,202.1 644.5,202.5 644.0,202.9 643.4,203.3 642.8,203.8 642.5,204.1 643.5,204.4 645.0,205.0 646.5,205.6 647.9,206.2 649.3,206.8 650.7,207.5 652.1,208.2 653.5,208.9 654.8,209.7 656.2,210.5 657.6,211.3 659.0,212.1 660.4,213.0 661.8,213.9 663.3,214.9 664.8,215.9 666.4,216.9 666.5,217.0 666.8,216.8 667.5,216.2 668.2,215.6 668.7,214.9 669.2,214.2 669.6,213.5 669.9,212.9 670.2,212.4 670.0,212.0Z" fill="rgb(184, 203, 223)" stroke="rgb(184, 203, 223)" stroke-width="0.6" stroke-linejoin="round"/>
<path d="M705.6,296.4 705.7,298.2 706.0,300.0 706.3,301.8 706.7,303.3 706.8,302.9 707.6,300.8 708.3,298.7 709.1,296.5 709.8,294.3 710.0,293.7 709.2,293.8 707.6,294.2 706.0,294.7 705.5,294.8Z" fill="rgb(161, 196, 207)" stroke="rgb(161, 196, 207)" stroke-width="0.6" stroke-linejoin="round"/>
<path d="M709.0,341.0 709.4,340.2 709.7,339.3 710.1,338.5 710.4,337.7 710.7,336.9 711.0,336.1 711.2,335.2 711.4,334.4 711.6,333.5 711.8,332.6 711.9,331.6 712.0,330.6 712.1,329.5 712.1,328.4 712.1,327.2 712.0,326.0 711.9,324.7 711.7,323.3 711.4,321.9 711.1,320.4 710.7,318.9 710.7,318.6 710.0,318.5 708.7,318.2 707.4,318.1 706.0,318.0 704.6,318.0 703.2,318.1 701.7,318.2 700.2,318.3 699.8,318.4 699.3,319.3 698.2,321.2 697.2,323.2 696.1,325.1 695.1,326.9 694.0,328.7 693.0,330.4 691.9,332.0 691.0,333.5 690.0,335.0 689.1,336.4 688.2,337.7 687.3,339.0 686.4,340.3 685.5,341.5 685.4,341.6 686.8,342.1 688.4,342.6 690.0,343.0 691.5,343.4 693.0,343.7 694.5,344.0 695.9,344.2 697.3,344.5 698.7,344.6 700.0,344.8 701.4,344.9 702.7,345.0 703.9,345.0 705.2,345.0 706.4,345.1 706.8,345.1 707.3,344.3 707.8,343.5 708.2,342.7 708.6,341.8Z" fill="rgb(218, 194, 203)" stroke="rgb(218, 194, 203)" stroke-width="0.6" stroke-linejoin="round"/>
<path d="M703.2,318.1 704.6,318.0 706.0,318.0 707.4,318.1 708.7,318.2 710.0,318.5 710.7,318.6 710.3,317.3 709.9,315.7 709.5,314.0 709.0,312.3 708.5,310.6 708.1,308.9 707.6,307.1 707.1,305.4 706.7,303.6 706.7,303.3 706.0,305.0 705.2,307.0 704.3,309.1 703.3,311.1 702.4,313.2 701.4,315.2 700.4,317.3 699.8,318.4 700.2,318.3 701.7,318.2Z" fill="rgb(188, 189, 190)" stroke="rgb(188, 189, 190)" stroke-width="0.6" stroke-linejoin="round"/>
<path d="M658.4,330.7 660.2,331.3 662.0,332.0 663.8,332.7 665.6,333.5 667.4,334.2 669.2,335.0 671.1,335.8 672.9,336.6 674.7,337.4 676.5,338.1 678.3,338.9 680.1,339.6 681.8,340.3 683.5,340.9 685.2,341.5 685.4,341.6 685.5,341.5 686.4,340.3 687.3,339.0 688.2,337.7 689.1,336.4 690.0,335.0 691.0,333.5 691.9,332.0 693.0,330.4 694.0,328.7 695.1,326.9 696.1,325.1 697.2,323.2 698.2,321.2 699.3,319.3 699.8,318.4 698.6,318.5 697.0,318.7 695.4,319.0 693.8,319.2 692.1,319.5 690.4,319.9 688.7,320.2 687.0,320.5 685.2,320.9 683.5,321.3 681.7,321.6 680.0,322.0 678.2,322.4 676.5,322.8 674.7,323.3 672.9,323.9 671.1,324.4 669.3,325.0 667.4,325.5 665.6,326.1 663.7,326.7 661.8,327.3 659.9,327.8 657.9,328.3 656.0,328.8 654.2,329.2 654.7,329.4 656.6,330.0Z" fill="rgb(194, 190, 202)" stroke="rgb(194, 190, 202)" stroke-width="0.6" stroke-linejoin="round"/>
<path d="M656.0,328.8 657.9,328.3 659.9,327.8 661.8,327.3 663.7,326.7 665.6,326.1 667.4,325.5 669.3,325.0 671.1,324.4 672.9,323.9 674.7,323.3 676.5,322.8 678.2,322.4 680.0,322.0 681.7,321.6 683.5,321.3 685.2,320.9 687.0,320.5 688.7,320.2 690.4,319.9 692.1,319.5 693.8,319.2 695.4,319.0 697.0,318.7 698.6,318.5 699.8,318.4 700.4,317.3 701.4,315.2 702.4,313.2 703.3,311.1 704.3,309.1 705.2,307.0 706.0,305.0 706.7,303.3 706.3,301.8 706.0,300.0 705.7,298.2 705.6,296.4 705.5,294.8 704.4,295.2 702.8,295.7 701.2,296.4 699.6,297.1 698.0,298.0 696.4,299.0 694.8,300.2 693.2,301.5 691.6,302.9 690.0,304.4 688.4,305.9 687.7,306.7 686.5,309.0 685.1,311.4 683.5,313.5 681.8,315.4 679.9,317.0 677.8,318.5 675.7,319.8 673.5,321.0 671.2,322.1 668.9,323.0 666.6,323.9 664.3,324.7 662.0,325.5 659.8,326.3 657.7,327.2 655.6,328.0 653.7,329.0 653.6,329.1 654.2,329.2Z" fill="rgb(170, 183, 188)" stroke="rgb(170, 183, 188)" stroke-width="0.6" stroke-linejoin="round"/>
<path d="M672.6,220.7 672.3,219.6 672.0,218.6 671.7,217.5 671.5,216.5 671.2,215.5 670.9,214.6 670.6,213.7 670.3,212.8 670.2,212.4 669.9,212.9 669.6,213.5 669.2,214.2 668.7,214.9 668.2,215.6 667.5,216.2 666.8,216.8 666.5,217.0 668.0,218.0 669.7,219.1 671.5,220.3 672.8,221.3Z" fill="rgb(175, 192, 218)" stroke="rgb(175, 192, 218)" stroke-width="0.6" stroke-linejoin="round"/>
<path d="M641.9,325.0 643.6,325.6 645.4,326.3 647.3,327.0 649.1,327.6 651.0,328.2 652.9,328.8 653.6,329.1 653.7,329.0 655.6,328.0 657.7,327.2 659.8,326.3 662.0,325.5 664.3,324.7 666.6,323.9 668.9,323.0 671.2,322.1 673.5,321.0 675.7,319.8 677.8,318.5 679.9,317.0 681.8,315.4 683.5,313.5 685.1,311.4 686.5,309.0 687.7,306.7 686.8,307.5 685.2,309.2 683.5,310.8 681.8,312.4 680.2,314.0 678.4,315.4 676.7,316.8 675.0,318.1 673.2,319.2 671.4,320.1 669.6,320.9 667.7,321.6 665.7,322.2 663.7,322.7 661.7,323.2 659.7,323.5 657.7,323.9 655.6,324.1 653.6,324.3 651.5,324.5 649.5,324.6 647.5,324.7 645.6,324.8 643.7,324.9 641.9,324.9Z" fill="rgb(159, 173, 185)" stroke="rgb(159, 173, 185)" stroke-width="0.6" stroke-linejoin="round"/>
<path d="M589.9,243.4 589.2,243.9 588.5,244.4 587.9,245.0 587.2,245.5 586.6,246.1 586.1,246.7 585.5,247.3 585.0,248.0 584.5,248.7 584.0,249.5 583.6,250.2 583.2,251.1 582.8,251.9 582.4,252.8 582.1,253.7 581.8,254.6 581.6,255.5 581.3,256.4 581.2,257.3 581.0,258.3 581.0,259.2 580.9,260.2 580.9,261.1 581.0,262.0 581.1,262.9 581.3,263.8 581.5,264.7 581.7,265.6 582.0,266.5 582.3,267.4 582.7,268.3 583.1,269.2 583.5,270.1 584.0,271.1 584.6,272.0 585.2,273.0 585.6,273.7 586.3,272.7 587.2,271.5 588.1,270.4 589.0,269.2 590.0,268.0 591.0,266.8 592.0,265.6 593.0,264.5 594.0,263.3 595.1,262.1 595.8,261.3 595.5,260.1 594.9,258.3 594.4,256.5 593.9,254.7 593.4,252.9 593.0,251.2 592.5,249.5 592.1,247.8 591.7,246.1 591.3,244.5 591.0,243.0 590.9,242.8 590.7,243.0Z" fill="rgb(216, 183, 190)" stroke="rgb(216, 183, 190)" stroke-width="0.6" stroke-linejoin="round"/>
<path d="M713.8,292.9 715.3,292.6 716.7,292.3 718.1,292.0 719.4,291.7 720.8,291.4 722.0,291.0 723.2,290.6 724.4,290.2 725.6,289.9 726.7,289.6 727.9,289.3 728.9,289.0 730.0,288.7 731.0,288.4 732.0,288.1 732.9,287.7 733.7,287.4 734.5,287.0 735.2,286.5 735.9,286.1 736.5,285.6 736.7,285.4 736.0,284.1 735.1,282.5 734.1,280.9 733.2,279.2 732.2,277.7 731.1,276.1 730.1,274.7 729.1,273.3 728.0,272.0 726.9,270.8 725.8,269.6 724.6,268.5 723.3,267.4 722.1,266.3 720.8,265.3 719.4,264.3 718.1,263.3 717.3,262.7 717.1,263.9 716.8,265.9 716.4,268.0 716.0,270.0 715.6,272.1 715.1,274.2 714.6,276.3 714.1,278.5 713.6,280.7 713.0,283.0 712.4,285.2 711.8,287.5 711.2,289.8 710.5,292.0 710.0,293.7 710.7,293.5 712.3,293.2Z" fill="rgb(187, 179, 180)" stroke="rgb(187, 179, 180)" stroke-width="0.6" stroke-linejoin="round"/>
<path d="M666.4,216.9 664.8,215.9 663.3,214.9 661.8,213.9 660.4,213.0 659.0,212.1 657.6,211.3 656.2,210.5 654.8,209.7 653.5,208.9 652.1,208.2 650.7,207.5 649.3,206.8 647.9,206.2 646.5,205.6 645.0,205.0 643.5,204.4 642.5,204.1 642.2,204.3 641.7,204.8 641.1,205.4 640.6,206.0 640.0,206.6 639.5,207.3 639.0,208.0 638.5,208.8 638.1,209.6 637.7,210.5 637.3,211.5 636.9,212.5 636.5,213.6 636.2,214.7 635.8,215.8 635.4,216.9 635.0,218.0 634.6,219.1 634.2,220.2 633.8,220.9 634.5,221.1 636.3,221.4 638.2,221.7 640.0,222.0 641.8,222.2 643.6,222.4 645.5,222.4 647.3,222.4 647.7,222.4 648.3,222.2 650.1,221.7 651.9,221.4 653.6,221.0 655.3,220.7 656.9,220.4 658.5,220.0 659.9,219.7 661.4,219.4 662.7,219.0 663.9,218.5 665.0,218.0 666.0,217.4 666.5,217.0Z" fill="rgb(192, 181, 191)" stroke="rgb(192, 181, 191)" stroke-width="0.6" stroke-linejoin="round"/>
<path d="M699.0,263.9 700.5,266.4 701.7,268.8 702.7,271.0 703.5,273.2 704.2,275.4 704.7,277.4 705.0,279.5 705.3,281.5 705.4,283.4 705.5,285.4 705.5,287.3 705.5,289.1 705.5,291.0 705.4,292.8 705.5,294.6 705.5,294.8 706.0,294.7 707.6,294.2 709.2,293.8 710.0,293.7 710.5,292.0 711.2,289.8 711.8,287.5 712.4,285.2 713.0,283.0 713.6,280.7 714.1,278.5 714.6,276.3 715.1,274.2 715.6,272.1 716.0,270.0 716.4,268.0 716.8,265.9 717.1,263.9 717.3,262.7 716.8,262.4 715.5,261.4 714.2,260.5 712.9,259.6 711.6,258.7 710.3,257.8 709.2,256.9 708.0,256.0 706.9,255.1 705.8,254.2 704.8,253.4 703.7,252.6 702.7,251.8 701.7,251.0 700.7,250.2 700.6,250.1 700.5,251.2 700.3,253.5 699.9,256.0 699.5,258.5 699.0,261.3 698.7,263.3Z" fill="rgb(168, 175, 179)" stroke="rgb(168, 175, 179)" stroke-width="0.6" stroke-linejoin="round"/>
<path d="M605.9,237.9 604.5,238.2 603.1,238.4 601.8,238.7 600.5,239.0 599.2,239.3 598.1,239.6 597.0,240.0 596.0,240.4 595.0,240.8 594.1,241.2 593.2,241.6 592.3,242.1 591.5,242.5 590.9,242.8 591.0,243.0 591.3,244.5 591.7,246.1 592.1,247.8 592.5,249.5 593.0,251.2 593.4,252.9 593.9,254.7 594.4,256.5 594.9,258.3 595.5,260.1 595.8,261.3 596.2,260.9 597.3,259.7 598.4,258.4 599.6,257.2 600.8,256.0 602.1,254.7 603.4,253.5 604.7,252.2 605.2,251.8 605.3,250.4 605.7,248.2 606.2,246.0 606.7,244.0 607.2,241.9 607.9,239.9 608.5,238.0 608.7,237.5 607.4,237.7Z" fill="rgb(220, 174, 175)" stroke="rgb(220, 174, 175)" stroke-width="0.6" stroke-linejoin="round"/>
<path d="M607.2,241.9 606.7,244.0 606.2,246.0 605.7,248.2 605.3,250.4 605.2,251.8 606.1,250.9 607.6,249.6 609.1,248.3 610.7,246.9 612.4,245.5 612.5,245.4 613.3,243.4 614.8,240.8 616.6,238.6 618.7,236.7 621.2,235.2 624.0,233.8 627.1,232.7 629.3,232.1 629.9,231.7 631.9,230.3 633.8,229.0 635.8,227.7 637.6,226.6 639.4,225.6 641.2,224.7 642.9,223.9 644.7,223.3 646.5,222.7 647.7,222.4 647.3,222.4 645.5,222.4 643.6,222.4 641.8,222.2 640.0,222.0 638.2,221.7 636.3,221.4 634.5,221.1 633.8,220.9 633.7,221.2 633.2,222.2 632.6,223.1 632.0,224.0 631.3,224.8 630.6,225.7 629.9,226.5 629.2,227.2 628.4,228.0 627.6,228.8 626.7,229.5 625.9,230.2 625.0,230.9 624.1,231.5 623.1,232.2 622.2,232.8 621.2,233.4 620.1,233.9 619.1,234.5 618.0,235.0 616.9,235.5 615.6,235.9 614.4,236.3 613.0,236.6 611.7,236.9 610.2,237.2 608.8,237.4 608.7,237.5 608.5,238.0 607.9,239.9Z" fill="rgb(197, 170, 174)" stroke="rgb(197, 170, 174)" stroke-width="0.6" stroke-linejoin="round"/>
<path d="M627.1,232.7 624.0,233.8 621.2,235.2 618.7,236.7 616.6,238.6 614.8,240.8 613.3,243.4 612.5,245.4 614.2,244.0 616.0,242.5 617.9,240.9 619.8,239.3 621.8,237.8 623.8,236.2 625.9,234.6 627.9,233.1 629.3,232.1ZM688.4,305.9 690.0,304.4 691.6,302.9 693.2,301.5 694.8,300.2 696.4,299.0 698.0,298.0 699.6,297.1 701.2,296.4 702.8,295.7 704.4,295.2 705.5,294.8 705.5,294.6 705.4,292.8 705.5,291.0 705.5,289.1 705.5,287.3 705.5,285.4 705.4,283.4 705.3,281.5 705.0,279.5 704.7,277.4 704.2,275.4 703.5,273.2 702.7,271.0 701.7,268.8 700.5,266.4 699.0,263.9 698.7,263.3 698.5,264.3 697.9,267.5 697.3,271.0 696.7,274.5 695.9,278.2 695.2,281.9 694.3,285.7 693.4,289.4 692.5,293.1 691.4,296.6 690.3,300.1 689.2,303.3 687.9,306.3 687.7,306.7Z" fill="rgb(173, 164, 163)" stroke="rgb(173, 164, 163)" stroke-width="0.6" stroke-linejoin="round"/>
<path d="M595.1,262.1 594.0,263.3 593.0,264.5 592.0,265.6 591.0,266.8 590.0,268.0 589.0,269.2 588.1,270.4 587.2,271.5 586.3,272.7 585.6,273.7 585.8,274.0 586.5,275.0 587.2,276.0 588.0,277.0 588.8,278.0 589.7,279.1 590.7,280.2 591.7,281.2 592.8,282.3 593.9,283.4 595.1,284.5 596.3,285.6 597.5,286.8 598.8,288.0 600.1,289.1 601.4,290.4 602.8,291.6 603.5,292.3 603.7,292.0 604.7,290.1 604.8,290.0 604.5,289.4 603.8,287.2 603.0,285.1 602.3,282.9 601.6,280.7 600.9,278.5 600.2,276.4 599.5,274.2 598.9,272.0 598.3,269.9 597.7,267.9 597.1,265.9 596.5,263.9 596.0,262.0 595.8,261.3Z" fill="rgb(201, 175, 191)" stroke="rgb(201, 175, 191)" stroke-width="0.6" stroke-linejoin="round"/>
<path d="M604.7,290.1 603.7,292.0 603.5,292.3 604.1,292.9 605.5,294.2 606.9,295.5 606.1,293.5 605.3,291.5 604.8,290.0Z" fill="rgb(176, 170, 179)" stroke="rgb(176, 170, 179)" stroke-width="0.6" stroke-linejoin="round"/>
<path d="M673.0,221.8 672.8,221.3 671.5,220.3 669.7,219.1 668.0,218.0 666.5,217.0 666.0,217.4 665.0,218.0 663.9,218.5 662.7,219.0 661.4,219.4 659.9,219.7 658.5,220.0 656.9,220.4 655.3,220.7 653.6,221.0 651.9,221.4 650.1,221.7 648.3,222.2 647.7,222.4 649.1,222.3 651.0,222.3 652.8,222.3 654.7,222.3 656.6,222.4 658.5,222.6 660.4,222.9 662.2,223.4 664.1,224.0 666.1,224.9 667.8,225.9 669.0,225.4 671.0,224.6 672.8,223.8 673.6,223.4 673.4,222.8Z" fill="rgb(180, 171, 189)" stroke="rgb(180, 171, 189)" stroke-width="0.6" stroke-linejoin="round"/>
<path d="M671.0,224.6 669.0,225.4 667.8,225.9 668.0,226.0 669.9,227.3 671.9,228.9 674.0,230.8 676.1,233.0 678.4,235.4 680.6,237.9 682.9,240.7 685.2,243.5 687.4,246.4 689.6,249.4 691.7,252.4 693.7,255.4 695.6,258.3 697.4,261.1 698.7,263.3 699.0,261.3 699.5,258.5 699.9,256.0 700.3,253.5 700.5,251.2 700.6,250.1 699.8,249.4 698.8,248.7 697.8,247.9 696.9,247.1 695.9,246.3 694.9,245.5 694.0,244.7 693.0,243.9 692.0,243.0 691.0,242.1 689.9,241.2 688.9,240.3 687.8,239.4 686.7,238.5 685.6,237.6 684.5,236.6 683.4,235.7 682.3,234.7 681.3,233.8 680.3,232.8 679.3,231.9 678.4,230.9 677.5,229.9 676.7,229.0 676.0,228.0 675.3,227.0 674.8,226.0 674.2,225.0 673.8,223.9 673.6,223.4 672.8,223.8Z" fill="rgb(158, 165, 177)" stroke="rgb(158, 165, 177)" stroke-width="0.6" stroke-linejoin="round"/>
<path d="M604.7,252.2 603.4,253.5 602.1,254.7 600.8,256.0 599.6,257.2 598.4,258.4 597.3,259.7 596.2,260.9 595.8,261.3 596.0,262.0 596.5,263.9 597.1,265.9 597.7,267.9 598.3,269.9 598.9,272.0 599.5,274.2 600.2,276.4 600.9,278.5 601.6,280.7 602.3,282.9 603.0,285.1 603.8,287.2 604.5,289.4 604.8,290.0 605.5,287.9 606.2,285.2 606.5,283.5 606.3,281.9 605.9,278.6 605.6,275.3 605.3,272.1 605.1,268.9 604.9,265.8 604.9,262.9 604.8,260.1 604.8,257.5 604.9,255.1 605.1,252.7 605.2,251.8Z" fill="rgb(205, 165, 174)" stroke="rgb(205, 165, 174)" stroke-width="0.6" stroke-linejoin="round"/>
<path d="M606.2,285.2 605.5,287.9 604.8,290.0 605.3,291.5 606.1,293.5 606.9,295.5 608.3,296.9 609.8,298.4 609.9,298.5 609.5,297.3 608.7,294.4 608.0,291.4 607.3,288.3 606.8,285.1 606.5,283.5ZM631.1,319.0 632.8,320.2 634.5,321.3 636.3,322.3 638.1,323.2 639.9,324.1 641.7,324.9 641.9,324.9 641.9,324.9 640.4,323.8 638.6,322.7 636.7,321.6 634.8,320.6 632.8,319.6 630.7,318.6 630.3,318.4Z" fill="rgb(180, 160, 163)" stroke="rgb(180, 160, 163)" stroke-width="0.6" stroke-linejoin="round"/>
<path d="M604.8,260.1 604.9,262.9 604.9,265.8 605.1,268.9 605.3,272.1 605.6,275.3 605.9,278.6 606.3,281.9 606.5,283.5 606.7,282.3 607.2,279.0 607.6,275.5 607.9,271.9 608.2,268.1 608.6,264.3 609.1,260.5 609.6,256.7 610.2,253.1 611.1,249.6 612.1,246.4 612.5,245.4 612.4,245.5 610.7,246.9 609.1,248.3 607.6,249.6 606.1,250.9 605.2,251.8 605.1,252.7 604.9,255.1 604.8,257.5ZM666.1,224.9 664.1,224.0 662.2,223.4 660.4,222.9 658.5,222.6 656.6,222.4 654.7,222.3 652.8,222.3 651.0,222.3 649.1,222.3 647.7,222.4 646.5,222.7 644.7,223.3 642.9,223.9 641.2,224.7 639.4,225.6 637.6,226.6 635.8,227.7 633.8,229.0 631.9,230.3 629.9,231.7 629.3,232.1 630.4,231.8 633.8,231.0 637.4,230.4 641.0,229.9 644.6,229.4 648.3,229.0 651.8,228.7 655.3,228.3 658.5,227.9 661.6,227.4 664.3,226.9 666.8,226.2 667.8,225.9Z" fill="rgb(184, 161, 172)" stroke="rgb(184, 161, 172)" stroke-width="0.6" stroke-linejoin="round"/>
<path d="M658.5,227.9 655.3,228.3 651.8,228.7 648.3,229.0 644.6,229.4 641.0,229.9 637.4,230.4 633.8,231.0 630.4,231.8 629.3,232.1 627.9,233.1 625.9,234.6 623.8,236.2 621.8,237.8 619.8,239.3 617.9,240.9 616.0,242.5 614.2,244.0 612.5,245.4 612.1,246.4 611.1,249.6 610.2,253.1 609.6,256.7 609.1,260.5 608.6,264.3 608.2,268.1 607.9,271.9 607.6,275.5 607.2,279.0 606.7,282.3 606.5,283.5 606.8,285.1 607.3,288.3 608.0,291.4 608.7,294.4 609.5,297.3 609.9,298.5 611.3,299.9 612.8,301.5 614.4,303.2 616.0,304.9 617.6,306.6 619.2,308.3 620.9,310.0 622.5,311.6 624.2,313.2 625.9,314.8 627.6,316.3 629.4,317.7 630.3,318.4 630.7,318.6 632.8,319.6 634.8,320.6 636.7,321.6 638.6,322.7 640.4,323.8 641.9,324.9 643.7,324.9 645.6,324.8 647.5,324.7 649.5,324.6 651.5,324.5 653.6,324.3 655.6,324.1 657.7,323.9 659.7,323.5 661.7,323.2 663.7,322.7 665.7,322.2 667.7,321.6 669.6,320.9 671.4,320.1 673.2,319.2 675.0,318.1 676.7,316.8 678.4,315.4 680.2,314.0 681.8,312.4 683.5,310.8 685.2,309.2 686.8,307.5 687.7,306.7 687.9,306.3 689.2,303.3 690.3,300.1 691.4,296.6 692.5,293.1 693.4,289.4 694.3,285.7 695.2,281.9 695.9,278.2 696.7,274.5 697.3,271.0 697.9,267.5 698.5,264.3 698.7,263.3 697.4,261.1 695.6,258.3 693.7,255.4 691.7,252.4 689.6,249.4 687.4,246.4 685.2,243.5 682.9,240.7 680.6,237.9 678.4,235.4 676.1,233.0 674.0,230.8 671.9,228.9 669.9,227.3 668.0,226.0 667.8,225.9 666.8,226.2 664.3,226.9 661.6,227.4Z" fill="rgb(161, 144, 158)" stroke="rgb(161, 144, 158)" stroke-width="0.6" stroke-linejoin="round"/>
<text x="670" y="197.7" font-size="7.1" text-anchor="middle" fill="#262626" >3278</text>
<text x="627" y="207" font-size="7.1" text-anchor="middle" fill="#262626" >1544</text>
<text x="647.3" y="210.7" font-size="7.1" text-anchor="middle" fill="#262626" >26</text>
<text x="658.3" y="205.4" font-size="7.1" text-anchor="middle" fill="#262626" >47</text>
<text x="667.2" y="213.7" font-size="7.1" text-anchor="middle" fill="#262626" >4</text>
<text x="683.3" y="210.3" font-size="7.1" text-anchor="middle" fill="#262626" >11</text>
<text x="626.4" y="218.7" font-size="7.1" text-anchor="middle" fill="#262626" >6</text>
<text x="647" y="220" font-size="7.1" text-anchor="middle" fill="#262626" >1</text>
<text x="672.7" y="221.7" font-size="7.1" text-anchor="middle" fill="#262626" >2</text>
<text x="687.3" y="220.3" font-size="7.1" text-anchor="middle" fill="#262626" >8</text>
<text x="709.7" y="224.6" font-size="7.1" text-anchor="middle" fill="#262626" >414</text>
<text x="703.5" y="232.3" font-size="7.1" text-anchor="middle" fill="#262626" >266</text>
<text x="691.2" y="232" font-size="7.1" text-anchor="middle" fill="#262626" >4</text>
<text x="597.4" y="231" font-size="7.1" text-anchor="middle" fill="#262626" >89</text>
<text x="608.6" y="231" font-size="7.1" text-anchor="middle" fill="#262626" >83</text>
<text x="620.6" y="228.6" font-size="7.1" text-anchor="middle" fill="#262626" >15</text>
<text x="595" y="248.9" font-size="7.1" text-anchor="middle" fill="#262626" >7</text>
<text x="606.5" y="244.6" font-size="7.1" text-anchor="middle" fill="#262626" >3</text>
<text x="620.9" y="245.9" font-size="7.1" text-anchor="middle" fill="#262626" >6</text>
<text x="585.4" y="257.4" font-size="7.1" text-anchor="middle" fill="#262626" >13</text>
<text x="588.6" y="269.4" font-size="7.1" text-anchor="middle" fill="#262626" >3</text>
<text x="598.2" y="269.4" font-size="7.1" text-anchor="middle" fill="#262626" >1</text>
<text x="580" y="238.5" font-size="7.1" text-anchor="middle" fill="#262626" >1811</text>
<text x="693.2" y="244.5" font-size="7.1" text-anchor="middle" fill="#262626" >6</text>
<text x="714.8" y="247.5" font-size="7.1" text-anchor="middle" fill="#262626" >49</text>
<text x="707.1" y="254" font-size="7.1" text-anchor="middle" fill="#262626" >42</text>
<text x="724.8" y="254.5" font-size="7.1" text-anchor="middle" fill="#262626" >131</text>
<text x="740" y="257.2" font-size="7.1" text-anchor="middle" fill="#262626" >465</text>
<text x="720.5" y="267" font-size="7.1" text-anchor="middle" fill="#262626" >31</text>
<text x="730.8" y="274.5" font-size="7.1" text-anchor="middle" fill="#262626" >197</text>
<text x="714.6" y="277.3" font-size="7.1" text-anchor="middle" fill="#262626" >5</text>
<text x="702.4" y="286.5" font-size="7.1" text-anchor="middle" fill="#262626" >18</text>
<text x="722" y="285.5" font-size="7.1" text-anchor="middle" fill="#262626" >8</text>
<text x="711.6" y="295.9" font-size="7.1" text-anchor="middle" fill="#262626" >47</text>
<text x="714" y="307.6" font-size="7.1" text-anchor="middle" fill="#262626" >57</text>
<text x="725.8" y="307.6" font-size="7.1" text-anchor="middle" fill="#262626" >20</text>
<text x="727.6" y="328.2" font-size="7.1" text-anchor="middle" fill="#262626" >98</text>
<text x="702.8" y="323.9" font-size="7.1" text-anchor="middle" fill="#262626" >27</text>
<text x="697.6" y="317" font-size="7.1" text-anchor="middle" fill="#262626" >14</text>
<text x="669.7" y="361.7" font-size="7.1" text-anchor="middle" fill="#262626" >582</text>
<text x="638.6" y="349.7" font-size="7.1" text-anchor="middle" fill="#262626" >49</text>
<text x="642.5" y="343.3" font-size="7.1" text-anchor="middle" fill="#262626" >15</text>
<text x="652.8" y="338.4" font-size="7.1" text-anchor="middle" fill="#262626" >9</text>
<text x="664.2" y="343.3" font-size="7.1" text-anchor="middle" fill="#262626" >16</text>
<text x="674.8" y="348.2" font-size="7.1" text-anchor="middle" fill="#262626" >76</text>
<text x="662.3" y="328.5" font-size="7.1" text-anchor="middle" fill="#262626" >3</text>
<text x="675" y="333" font-size="7.1" text-anchor="middle" fill="#262626" >7</text>
<text x="685.6" y="335.8" font-size="7.1" text-anchor="middle" fill="#262626" >6</text>
<text x="699.8" y="337.7" font-size="7.1" text-anchor="middle" fill="#262626" >21</text>
<text x="628.4" y="330.6" font-size="7.1" text-anchor="middle" fill="#262626" >4</text>
<text x="624.1" y="337.7" font-size="7.1" text-anchor="middle" fill="#262626" >2</text>
<text x="583.6" y="287" font-size="7.1" text-anchor="middle" fill="#262626" >11</text>
<text x="591" y="286" font-size="7.1" text-anchor="middle" fill="#262626" >8</text>
<text x="599.4" y="294.4" font-size="7.1" text-anchor="middle" fill="#262626" >5</text>
<text x="611.6" y="300.4" font-size="7.1" text-anchor="middle" fill="#262626" >3</text>
<text x="595.6" y="306" font-size="7.1" text-anchor="middle" fill="#262626" >5</text>
<text x="593.6" y="317" font-size="7.1" text-anchor="middle" fill="#262626" >13</text>
<text x="607.6" y="323.6" font-size="7.1" text-anchor="middle" fill="#262626" >1</text>
<text x="592.4" y="333" font-size="7.1" text-anchor="middle" fill="#262626" >75</text>
<text x="611" y="336.4" font-size="7.1" text-anchor="middle" fill="#262626" >12</text>
<text x="656.6" y="280.2" font-size="7.1" text-anchor="middle" fill="#262626" >12</text>
<text x="626" y="185.4" font-size="6.95" text-anchor="start" fill="#262626" >JK1775 12 hpi V592/Mock</text>
<text x="548.8" y="208.9" font-size="6.95" text-anchor="start" fill="#262626" >Z8 12 hpi V592/Mock</text>
<text x="701.3" y="216.3" font-size="6.95" text-anchor="start" fill="#262626" >JK1775 5 dpi V592/Mock</text>
<text x="710.6" y="343.8" font-size="6.95" text-anchor="start" fill="#262626" >Z8 5 dpi V592/Mock</text>
<text x="553.1" y="350" font-size="6.95" text-anchor="start" fill="#262626" >Z8 10 dpi V592/Mock</text>
<text x="630.5" y="372" font-size="6.95" text-anchor="start" fill="#262626" >JK1775 10 dpi V592/Mock</text></svg>
</body></html>
